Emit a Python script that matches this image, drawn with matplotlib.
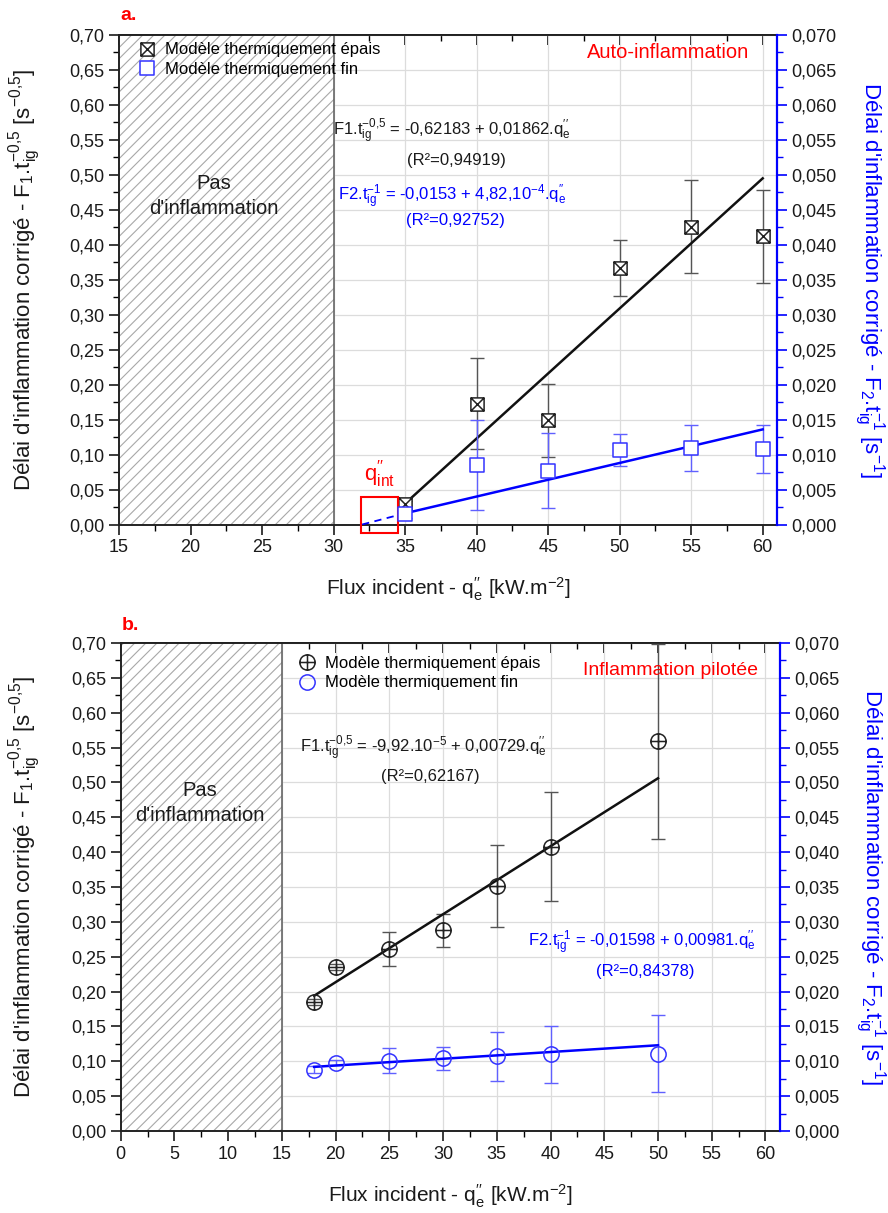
import matplotlib
matplotlib.use("Agg")
import matplotlib.pyplot as plt
from matplotlib.path import Path
from matplotlib.patches import Rectangle
from matplotlib.lines import Line2D
from matplotlib.ticker import MultipleLocator, AutoMinorLocator, FuncFormatter, NullFormatter

plt.rcParams['font.family'] = ['Liberation Sans', 'DejaVu Sans']
plt.rcParams['mathtext.fontset'] = 'custom'
plt.rcParams['mathtext.rm'] = 'Liberation Sans'
plt.rcParams['mathtext.it'] = 'Liberation Sans:italic'
plt.rcParams['mathtext.bf'] = 'Liberation Sans:bold'
plt.rcParams['mathtext.default'] = 'regular'
plt.rcParams['hatch.linewidth'] = 0.8

# --- a. auto-inflammation ---
qa = [35, 40, 45, 50, 55, 60]
f1_a = [0.030, 0.173, 0.149, 0.367, 0.426, 0.412]
f1_a_err = [0.004, 0.065, 0.052, 0.040, 0.066, 0.066]
f2_a = [0.0015, 0.0085, 0.0077, 0.0107, 0.0109, 0.0108]
f2_a_err = [0.0005, 0.0064, 0.0054, 0.0023, 0.0033, 0.0035]
fit_a_x = [35, 60]
fit1_a_y = [0.030, 0.495]
fit2_a_y = [0.0016, 0.0136]
ext_a_x = [32.0, 35]
ext_a_y = [0.0, 0.0016]

# --- b. inflammation pilotee ---
qb = [18, 20, 25, 30, 35, 40, 50]
f1_b = [0.185, 0.235, 0.261, 0.288, 0.351, 0.408, 0.559]
f1_b_err = [0.004, 0.004, 0.0245, 0.0235, 0.0587, 0.078, 0.14]
f2_b = [0.0088, 0.0098, 0.0101, 0.0104, 0.0107, 0.0110, 0.0111]
f2_b_err = [0.0005, 0.0004, 0.0018, 0.0017, 0.0035, 0.0041, 0.0055]
fit_b_x = [18, 50]
fit1_b_y = [0.194, 0.506]
fit2_b_y = [0.0092, 0.0123]

BLUE = '#0000ff'
TXT = '#1a1a1a'

M, L, C = Path.MOVETO, Path.LINETO, Path.CLOSEPOLY
square = Path([(-1, -1), (1, -1), (1, 1), (-1, 1), (-1, -1)], [M, L, L, L, C])
square_x = Path([(-1, -1), (1, -1), (1, 1), (-1, 1), (-1, -1),
                 (-1, -1), (1, 1), (-1, 1), (1, -1)],
                [M, L, L, L, C, M, L, M, L])
circle_plus = Path.make_compound_path(
    Path.unit_circle(),
    Path([(-1, 0), (1, 0)], [M, L]),
    Path([(0, -1), (0, 1)], [M, L]))
circle = Path.unit_circle()

comma2 = FuncFormatter(lambda v, p: f"{v:.2f}".replace('.', ','))
comma3 = FuncFormatter(lambda v, p: f"{v:.3f}".replace('.', ','))

left_label = "Délai d'inflammation corrigé - F$_1$.t$_{ig}^{-0{,}5}$ [s$^{-0{,}5}$]"
right_label = "Délai d'inflammation corrigé - F$_2$.t$_{ig}^{-1}$ [s$^{-1}$]"
x_label = "Flux incident - q$_e^{\\prime\\prime}$ [kW.m$^{-2}$]"

fig = plt.figure(figsize=(8.88, 12.13), dpi=100)


def setup(ax, xlim, hatch_end, xlab_y):
    ax.set_xlim(*xlim)
    ax.set_ylim(0, 0.70)
    ax.xaxis.set_major_locator(MultipleLocator(5))
    ax.xaxis.set_minor_locator(AutoMinorLocator(2))
    ax.yaxis.set_major_locator(MultipleLocator(0.05))
    ax.yaxis.set_minor_locator(AutoMinorLocator(2))
    ax.yaxis.set_major_formatter(comma2)
    ax.tick_params(which='major', direction='out', length=7, width=1.2, labelsize=13, colors=TXT)
    ax.tick_params(which='minor', direction='out', length=4, width=1.0)
    ax.grid(True, which='major', color='#dcdcdc', lw=0.9)
    ax.set_axisbelow(True)
    for s in ax.spines.values():
        s.set_linewidth(1.4)
        s.set_color('#222222')
    ax.spines['right'].set_visible(False)
    ax.axvspan(xlim[0], hatch_end, facecolor='white', edgecolor='#a8a8a8',
               hatch='///', lw=0, zorder=1)
    ax.axvline(hatch_end, color='#666666', lw=1.2, zorder=1.1)
    sec = ax.secondary_xaxis('top')
    sec.xaxis.set_major_locator(MultipleLocator(5))
    sec.xaxis.set_minor_locator(AutoMinorLocator(2))
    sec.xaxis.set_major_formatter(NullFormatter())
    sec.tick_params(which='major', direction='in', length=7, width=1.2)
    sec.tick_params(which='minor', direction='in', length=4, width=1.0)
    sec.spines['top'].set_linewidth(1.4)
    ax.set_xlabel(x_label, fontsize=15, color=TXT)
    ax.xaxis.set_label_coords(0.5, xlab_y)
    ax.set_ylabel(left_label, fontsize=16, color=TXT, va='center')
    ax.yaxis.set_label_coords(-0.143, 0.5)

    ax2 = ax.twinx()
    ax2.set_ylim(0, 0.070)
    ax2.yaxis.set_major_locator(MultipleLocator(0.005))
    ax2.yaxis.set_minor_locator(AutoMinorLocator(2))
    ax2.yaxis.set_major_formatter(comma3)
    ax2.tick_params(axis='y', which='major', direction='out', length=7, width=1.2,
                    labelsize=13, color=BLUE, labelcolor=TXT)
    ax2.tick_params(axis='y', which='minor', direction='out', length=4, width=1.0, color=BLUE)
    for k in ['top', 'left', 'bottom']:
        ax2.spines[k].set_visible(False)
    ax2.spines['right'].set_color(BLUE)
    ax2.spines['right'].set_linewidth(1.6)
    ax2.set_ylabel(right_label, fontsize=16, color=BLUE, rotation=270, va='center')
    ax2.yaxis.set_label_coords(1.14, 0.5)
    return ax2


# ---------------- panel a ----------------
ax = fig.add_axes([119 / 888, 1 - 524.5 / 1213, 658 / 888, 489.5 / 1213])
ax2 = setup(ax, (15, 61), 30, -0.105)

ax.errorbar(qa, f1_a, yerr=f1_a_err, fmt='none', ecolor='#555555', elinewidth=1,
            capsize=5, capthick=1, zorder=3)
ax.plot(fit_a_x, fit1_a_y, color='#111111', lw=1.8, zorder=3.5)
ax.plot(qa, f1_a, ls='none', marker=square_x, ms=9.5, mfc='white', mec='#222222',
        mew=1.1, zorder=4)

ax2.errorbar(qa, f2_a, yerr=f2_a_err, fmt='none', ecolor='#6060ff', elinewidth=1,
             capsize=5, capthick=1, zorder=3)
ax2.plot(fit_a_x, fit2_a_y, color=BLUE, lw=1.8, zorder=3.5)
ax2.plot(ext_a_x, ext_a_y, color=BLUE, lw=1.3, ls=(0, (4, 3)), zorder=3.5)
ax2.plot(qa, f2_a, ls='none', marker=square, ms=10.5, mfc='white', mec='#3333ff',
         mew=1.1, zorder=4)

ax.add_patch(Rectangle((31.9, -0.012), 2.6, 0.052, fill=False, ec='red', lw=1.5,
                       clip_on=False, zorder=5))
ax.text(33.2, 0.072, "q$_{int}^{\\prime\\prime}$", color='red', fontsize=16,
        ha='center', va='center')

ax.text(21.6, 0.487, "Pas", fontsize=14.5, ha='center', va='center', color=TXT, zorder=5)
ax.text(21.6, 0.452, "d'inflammation", fontsize=14.5, ha='center', va='center', color=TXT, zorder=5)
ax.text(53.4, 0.675, "Auto-inflammation", fontsize=14.5, color='red', ha='center', va='center')
ax.text(38.3, 0.562, "F1.t$_{ig}^{-0{,}5}$ = -0,62183 + 0,01862.q$_e^{\\prime\\prime}$",
        fontsize=12, ha='center', va='center', color=TXT)
ax.text(38.6, 0.521, "(R²=0,94919)", fontsize=12, ha='center', va='center', color=TXT)
ax.text(38.3, 0.468, "F2.t$_{ig}^{-1}$ = -0,0153 + 4,82,10$^{-4}$.q$_e^{\\prime\\prime}$",
        fontsize=12, ha='center', va='center', color=BLUE)
ax.text(38.5, 0.435, "(R²=0,92752)", fontsize=12, ha='center', va='center', color=BLUE)

handles = [Line2D([], [], ls='none', marker=square_x, ms=9.5, mfc='white', mec='#222222', mew=1.1),
           Line2D([], [], ls='none', marker=square, ms=10.5, mfc='white', mec='#3333ff', mew=1.1)]
ax2.legend(handles, ["Modèle thermiquement épais", "Modèle thermiquement fin"],
           loc='upper left', bbox_to_anchor=(0.030, 0.985), frameon=False, fontsize=12,
           handlelength=1.0, handletextpad=0.6, labelspacing=0.25, borderpad=0,
           borderaxespad=0)
fig.text(120 / 888, 1 - 15 / 1213, "a.", color='red', fontsize=14, fontweight='bold',
         ha='left', va='center')

# ---------------- panel b ----------------
bx = fig.add_axes([120.7 / 888, 1 - 1131 / 1213, 659.3 / 888, 488 / 1213])
bx2 = setup(bx, (0, 61.35), 15, -0.105)
bx.yaxis.set_label_coords(-0.145, 0.5)
bx2.yaxis.set_label_coords(1.137, 0.5)

bx.errorbar(qb, f1_b, yerr=f1_b_err, fmt='none', ecolor='#555555', elinewidth=1,
            capsize=5, capthick=1, zorder=3)
bx.plot(fit_b_x, fit1_b_y, color='#111111', lw=1.8, zorder=3.5)
bx.plot(qb, f1_b, ls='none', marker=circle_plus, ms=11, mfc='none', mec='#222222',
        mew=1.1, zorder=4)

bx2.errorbar(qb, f2_b, yerr=f2_b_err, fmt='none', ecolor='#6060ff', elinewidth=1,
             capsize=5, capthick=1, zorder=3)
bx2.plot(fit_b_x, fit2_b_y, color=BLUE, lw=1.8, zorder=3.5)
bx2.plot(qb, f2_b, ls='none', marker=circle, ms=11, mfc='none', mec='#3333ff',
         mew=1.1, zorder=4)

bx.text(7.4, 0.489, "Pas", fontsize=14.5, ha='center', va='center', color=TXT, zorder=5)
bx.text(7.4, 0.453, "d'inflammation", fontsize=14.5, ha='center', va='center', color=TXT, zorder=5)
bx.text(51.2, 0.661, "Inflammation pilotée", fontsize=14, color='red', ha='center', va='center')
bx.text(28.2, 0.549, "F1.t$_{ig}^{-0{,}5}$ = -9,92.10$^{-5}$ + 0,00729.q$_e^{\\prime\\prime}$",
        fontsize=12, ha='center', va='center', color=TXT)
bx.text(28.8, 0.508, "(R²=0,62167)", fontsize=12, ha='center', va='center', color=TXT)
bx.text(48.5, 0.270, "F2.t$_{ig}^{-1}$ = -0,01598 + 0,00981.q$_e^{\\prime\\prime}$",
        fontsize=12, ha='center', va='center', color=BLUE)
bx.text(48.8, 0.229, "(R²=0,84378)", fontsize=12, ha='center', va='center', color=BLUE)

handles = [Line2D([], [], ls='none', marker=circle_plus, ms=11, mfc='none', mec='#222222', mew=1.1),
           Line2D([], [], ls='none', marker=circle, ms=11, mfc='none', mec='#3333ff', mew=1.1)]
bx2.legend(handles, ["Modèle thermiquement épais", "Modèle thermiquement fin"],
           loc='upper left', bbox_to_anchor=(0.27, 0.973), frameon=False, fontsize=12,
           handlelength=1.0, handletextpad=0.6, labelspacing=0.25, borderpad=0,
           borderaxespad=0)
fig.text(122 / 888, 1 - 625 / 1213, "b.", color='red', fontsize=14, fontweight='bold',
         ha='left', va='center')

fig.savefig("out.png", dpi=100)
